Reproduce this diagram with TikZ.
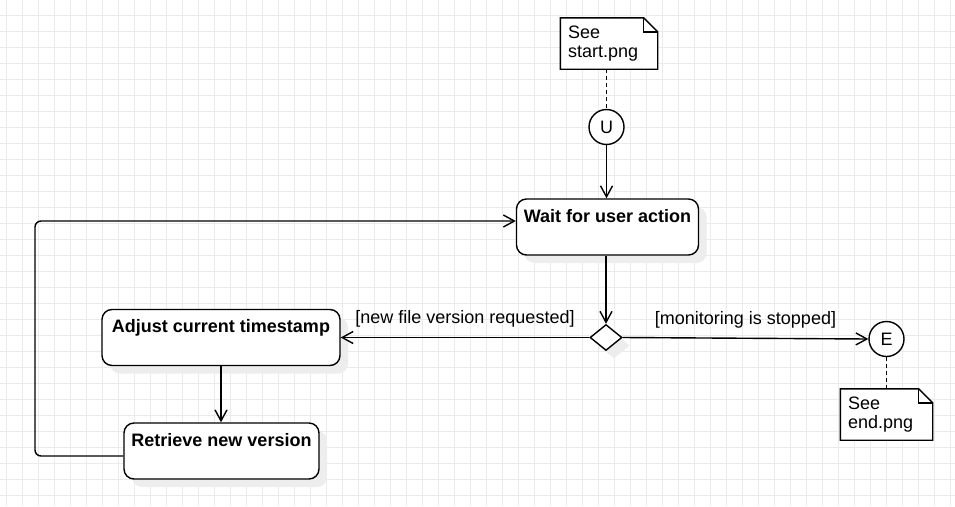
\documentclass[tikz,border=0pt]{standalone}
\usepackage{fontspec}
\setmainfont{Liberation Sans}
\usetikzlibrary{shapes,arrows.meta,positioning,shadows}

\begin{document}
\begin{tikzpicture}[x=1pt,y=-1pt,line width=1.4pt,>={Straight Barb[length=11pt,width=12pt]},
    font=\fontsize{18}{19}\selectfont]
    \tikzstyle{gridline}=[draw=black!8,line width=1pt]
    \tikzstyle{flat shadow}=[drop shadow={shadow xshift=8pt,shadow yshift=-8pt,fill=black!7,opacity=1}]
    \tikzstyle{action}=[draw,fill=white,rounded corners=10pt,flat shadow,font=\fontsize{18}{19}\selectfont\bfseries,
        text height=13pt,text depth=23pt,inner ysep=10pt]
    \tikzstyle{decision}=[diamond,draw,fill=white,flat shadow,minimum width=32pt,minimum height=26pt,inner sep=0pt]
    \tikzstyle{terminal}=[circle,draw,fill=white,minimum size=35pt,inner sep=0pt]
    \tikzstyle{note link}=[dash pattern=on 4pt off 3pt]
    \tikzstyle{note}=[inner xsep=7pt,minimum height=50pt,align=left,
        append after command={\pgfextra{\let\notenode=\tikzlastnode
            \draw[fill=white] (\notenode.south west) -- (\notenode.north west) -- ([xshift=-14pt]\notenode.north east)
                -- ([yshift=-14pt]\notenode.north east) -- (\notenode.south east) -- cycle;
            \draw ([xshift=-14pt]\notenode.north east) |- ([yshift=-14pt]\notenode.north east);}}]

    % Draw the background grid
    \fill[white] (0,0) rectangle (955,506);
    \useasboundingbox (0,0) rectangle (955,506);
    \foreach \x in {6,22,...,950}
        \draw[gridline] (\x,0) -- (\x,506);
    \foreach \y in {15,31,...,505}
        \draw[gridline] (0,\y) -- (955,\y);

    % Draw the notes and the start / end nodes
    \node[note,text width=82pt] (startnote) at (609,43.5) {See\\start.png};
    \node[note,text width=77pt] (endnote) at (886.5,414.5) {See\\end.png};
    \node[terminal] (U) at (606.5,127) {U};
    \node[terminal] (E) at (886.5,339) {E};

    % Draw the action nodes
    \node[action,minimum width=182pt] (wait) at (607.5,227) {Wait for user action};
    \node[action,minimum width=238pt] (adjust) at (221,337.5) {Adjust current timestamp};
    \node[action,minimum width=195pt] (retrieve) at (221.5,451) {Retrieve new version};
    \node[decision] (choice) at (606,337.5) {};
    \coordinate (turn) at (35,221);

    % Connect the nodes
    \draw[note link] (U.north |- startnote.south) -- (U.north);
    \draw[note link] (E.south) -- (E.south |- endnote.north);
    \draw[->] (U) -- (U |- wait.north);
    \draw[->] (choice |- wait.south) -- (choice.north);
    \draw[->] (choice.west) -- (adjust.east) node[midway,above=6pt] {[new file version requested]};
    \draw[->] (choice.east) -- (E.west) node[midway,above=6pt] {[monitoring is stopped]};
    \draw[->] (adjust) -- (adjust |- retrieve.north);
    \draw[->,rounded corners=6pt] ([yshift=-5pt]retrieve.west) -| (turn) -- (turn -| wait.west);

\end{tikzpicture}
\end{document}
